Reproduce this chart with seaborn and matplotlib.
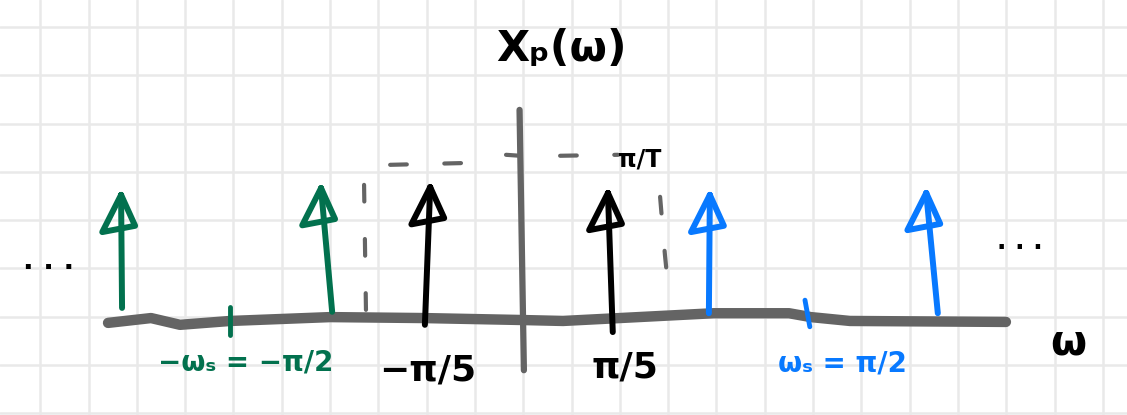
import numpy as np
import matplotlib
matplotlib.use("Agg")
import matplotlib.pyplot as plt
import seaborn as sns

# positions in grid units (1 unit = one grid cell), origin where the axes cross
green_base_x = [-8.26, -3.91]
green_base_y = [0.25, 0.17]
green_tip_x = [-8.28, -4.14]
green_tip_y = [2.59, 2.73]

black_base_x = [-1.99, 1.90]
black_base_y = [-0.10, -0.25]
black_tip_x = [-1.88, 1.80]
black_tip_y = [2.75, 2.63]

blue_base_x = [3.89, 8.63]
blue_base_y = [0.14, 0.14]
blue_tip_x = [3.91, 8.39]
blue_tip_y = [2.59, 2.63]

# hand drawn omega axis
axis_x = [-8.55, -7.66, -7.06, -6.02, -3.95, -2.01, 0.0, 0.87, 3.99, 5.55, 6.00, 6.81, 10.04]
axis_y = [-0.06, 0.04, -0.10, -0.02, 0.06, 0.04, 0.0, -0.02, 0.14, 0.14, 0.06, -0.02, -0.04]

# dashed envelope of height pi/T
env_left_x = [-3.21, -3.25, -3.13, -2.82, -1.16]
env_left_y = [0.21, 2.86, 3.11, 3.21, 3.25]
env_mid_x = [-0.31, -0.02]
env_mid_y = [3.42, 3.40]
env_rtop_x = [0.81, 2.01]
env_rtop_y = [3.40, 3.42]
env_right_x = [2.88, 2.98, 3.08]
env_right_y = [2.55, 1.35, 0.35]

GREEN = "#02714e"
BLUE = "#0879ff"
GRAY = "#646464"

sns.set_theme(style="whitegrid", rc={"grid.color": "#e9e9e9", "grid.linewidth": 1.8,
                                     "text.color": "black"})
plt.rcParams["font.family"] = ["DejaVu Sans"]

fig = plt.figure(figsize=(11.27, 4.15), dpi=100)
ax = fig.add_axes([0, 0, 1, 1])
ax.set_xlim(-10.787, 12.547)
ax.set_ylim(-1.967, 6.625)
ax.set_xticks(np.arange(-9.954, 12.6, 1.0))
ax.set_yticks(np.arange(-0.932 - 1, 6.7, 1.0))
ax.set_xticklabels([])
ax.set_yticklabels([])
ax.tick_params(length=0)
for s in ax.spines.values():
    s.set_visible(False)

# axes
sns.lineplot(x=axis_x, y=axis_y, ax=ax, color=GRAY, lw=7.5, sort=False,
             solid_capstyle="round", solid_joinstyle="round")
ax.plot([-0.03, 0.06], [4.35, -1.04], color=GRAY, lw=4.5, solid_capstyle="round")

# ticks at +-ws
ax.plot([-6.02, -6.02], [0.27, -0.31], color=GREEN, lw=3.5, solid_capstyle="round")
ax.plot([5.88, 5.98], [0.41, -0.14], color=BLUE, lw=3.5, solid_capstyle="round")

# dashed envelope
dash_kw = dict(color=GRAY, lw=3, dashes=(4, 9), dash_capstyle="round")
ax.plot(env_left_x, env_left_y, **dash_kw)
ax.plot(env_mid_x, env_mid_y, color=GRAY, lw=3, solid_capstyle="round")
ax.plot(env_rtop_x, env_rtop_y, **dash_kw)
ax.plot(env_right_x, env_right_y, **dash_kw)


def draw_arrows(bx, by, tx, ty, color):
    for x0, y0, x1, y1 in zip(bx, by, tx, ty):
        ax.plot([x0, x1], [y0, y1], color=color, lw=4.3, solid_capstyle="round")
        ax.plot([x1, x1 - 0.39, x1 + 0.29, x1], [y1, y1 - 0.77, y1 - 0.64, y1],
                color=color, lw=4.3, solid_joinstyle="round", solid_capstyle="round")


draw_arrows(green_base_x, green_base_y, green_tip_x, green_tip_y, GREEN)
draw_arrows(black_base_x, black_base_y, black_tip_x, black_tip_y, "black")
draw_arrows(blue_base_x, blue_base_y, blue_tip_x, blue_tip_y, BLUE)

# labels
ax.text(0.83, 5.62, "Xₚ(ω)", fontsize=31, fontweight="bold", ha="center", va="center")
ax.text(-5.71, -0.89, "−ωₛ = −π/2", fontsize=20, fontweight="bold", color=GREEN,
        ha="center", va="center")
ax.text(-1.93, -1.04, "−π/5", fontsize=26, fontweight="bold", ha="center", va="center")
ax.text(2.15, -0.99, "π/5", fontsize=26, fontweight="bold", ha="center", va="center")
ax.text(6.65, -0.91, "ωₛ = π/2", fontsize=20, fontweight="bold", color=BLUE,
        ha="center", va="center")
ax.text(11.33, -0.46, "ω", fontsize=30, fontweight="bold", ha="center", va="center")
ax.text(2.01, 3.33, "π/T", fontsize=17, fontweight="bold", ha="left", va="center")
ax.text(-9.79, 1.22, ". . .", fontsize=20, fontweight="bold", ha="center", va="center")
ax.text(10.33, 1.61, ". . .", fontsize=18, fontweight="bold", ha="center", va="center")

fig.savefig("out.png", dpi=100)
